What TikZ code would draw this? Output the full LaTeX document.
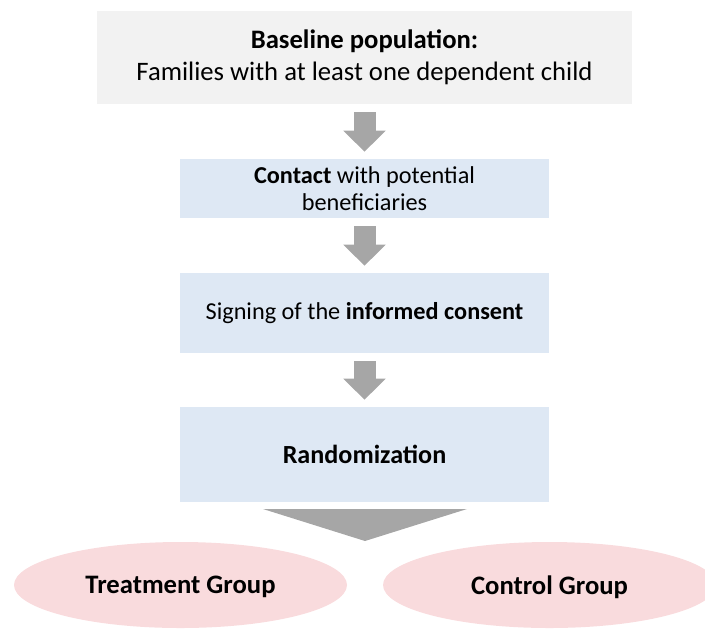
\documentclass[tikz,border=0pt]{standalone}
\usepackage{fontspec}
\setmainfont{Carlito}
\usetikzlibrary{arrows.meta,shapes.geometric}

\definecolor{greybox}{HTML}{F2F2F2}
\definecolor{bluebox}{HTML}{DEE8F4}
\definecolor{pinkgroup}{HTML}{F9DBDD}
\definecolor{arrowgrey}{HTML}{A6A6A6}

\tikzset{
  stage/.style={fill=bluebox, draw=none, align=center, inner sep=0pt,
    minimum width=276.75pt, font=\fontsize{18.2}{20.25}\selectfont},
  group/.style={ellipse, fill=pinkgroup, draw=none, inner sep=0pt,
    minimum width=249.75pt, minimum height=64.5pt, text depth=0pt,
    font=\fontsize{20}{24}\selectfont\bfseries},
  down/.style={draw=arrowgrey, line width=16.5pt,
    -{Triangle[width=30.75pt, length=15.75pt]},
    shorten <=6pt, shorten >=5.25pt}
}

\begin{document}
\begin{tikzpicture}[x=0.75pt, y=-0.75pt]

  \clip (0,0) rectangle (705,628);
  \useasboundingbox (0,0) rectangle (705,628);

  %% boxes
  \node[fill=greybox, align=center, inner sep=0pt,
    minimum width=401.25pt, minimum height=69.75pt,
    font=\fontsize{20}{24}\selectfont]
    (base) at (364.5,57.5)
    {\textbf{Baseline population:}\\
     Families with at least one dependent child};

  \node[stage, minimum height=44.25pt] (contact) at (364.5,188.5)
    {\textbf{Contact} with potential\\ beneficiaries};

  \node[stage, minimum height=60pt] (consent) at (364.5,313)
    {Signing of the \textbf{informed consent}};

  \node[stage, minimum height=71.25pt, text depth=0pt,
    font=\fontsize{19.6}{24}\selectfont\bfseries]
    (random) at (364.5,454.5) {Randomization};

  %% arrows
  \draw[down] (base) -- (contact);
  \draw[down] (contact) -- (consent);
  \draw[down] (consent) -- (random);

  %% split
  \coordinate (tipl) at (263,509);
  \coordinate (tipr) at (467,509);
  \coordinate (tip) at (365,541);
  \fill[arrowgrey] (tipl) -- (tipr) -- (tip) -- cycle;

  \node[group] (treat) at (180.5,585) {Treatment Group};
  \node[group] (control) at (549.5,585) {Control Group};

\end{tikzpicture}
\end{document}
